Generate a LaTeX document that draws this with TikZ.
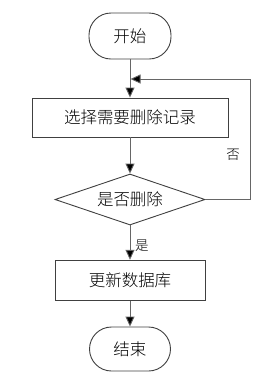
\documentclass[tikz,border=0pt]{standalone}
\usepackage{fontspec}
\newfontfamily\cjk{Noto Sans CJK SC Light}
\usetikzlibrary{shapes.geometric,arrows.meta}
\begin{document}
\begin{tikzpicture}[x=1pt,y=-1pt,
  every node/.style={font=\cjk\fontsize{16.5}{18}\selectfont, inner sep=0pt},
  lbl/.style={font=\cjk\fontsize{13.5}{15}\selectfont},
  term/.style={draw=black!75, line width=0.9pt, rectangle, rounded corners=22pt},
  procbox/.style={draw=black!75, line width=0.9pt, rectangle},
  decbox/.style={draw=black!75, line width=0.9pt, diamond, aspect=2.94, minimum width=150pt, minimum height=51pt},
  conn/.style={draw=black!60, line width=0.9pt, -{Triangle[width=9pt,length=10pt,fill=black]}},
  plain/.style={draw=black!60, line width=0.9pt}]
\useasboundingbox (0,0) rectangle (270,392);
\node[term, minimum width=82pt, minimum height=46pt] (start) at (130,36) {开始};
\node[procbox, minimum width=196pt, minimum height=39pt] (sel) at (130,117.5) {选择需要删除记录};
\node[decbox] (dec) at (130,199.5) {是否删除};
\node[procbox, minimum width=150pt, minimum height=40.5pt] (upd) at (130,280.5) {更新数据库};
\node[term, minimum width=81pt, minimum height=44pt] (stop) at (130,349) {结束};
\coordinate (c1) at (250,199.5);
\coordinate (c2) at (250,79);
\coordinate (c3) at (130.5,79);
\draw[conn] (start) -- (sel);
\draw[conn] (sel) -- (dec);
\draw[conn] (dec) -- (upd);
\draw[conn] (upd) -- (stop);
\draw[conn] (dec.east) -- (c1) -- (c2) -- (c3);
\node[lbl] (no) at (233,155) {否};
\node[lbl] (yes) at (142,246) {是};
\end{tikzpicture}
\end{document}
